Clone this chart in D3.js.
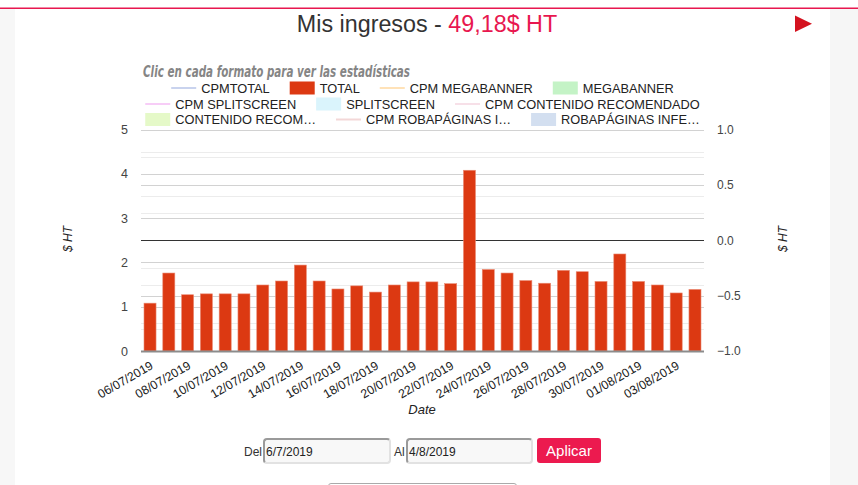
<!DOCTYPE html>
<html>
<head>
<meta charset="utf-8">
<script src="https://cdn.jsdelivr.net/npm/d3@7"></script>
<style>
    body { margin: 0; width: 858px; height: 485px; overflow: hidden; background: #fff; font-family: Arial, "Liberation Sans", sans-serif; }
    #page { position: relative; width: 858px; height: 485px; }
    #chart { position: absolute; left: 0; top: 0; }
    .fecha { position: absolute; top: 438px; height: 26px; box-sizing: border-box; border: 2px solid #e2e2e2; border-top-color: #9a9a9a; border-left-color: #9a9a9a;
        border-radius: 4px; background: #f8f8f8; font-size: 12px; color: #222; padding: 5px 0 0 1px; font-family: Arial, "Liberation Sans", sans-serif; }
    .lbl { position: absolute; top: 445px; font-size: 12px; color: #333; }
    #aplicar { position: absolute; left: 537px; top: 438px; width: 64px; height: 25px; background: #ec1a4f; color: #fff;
        border-radius: 3px; font-size: 15px; text-align: center; line-height: 25px; }
    #selector { position: absolute; left: 328px; top: 483px; width: 187px; height: 10px; border: 1px solid #aaa; border-radius: 3px; background: #fff; }
</style>
</head>
<body>
<div id="page">
    <svg id="chart" width="858" height="485"></svg>
    <span class="lbl" style="left:244px">Del</span>
    <div class="fecha" style="left:263px; width:128px">6/7/2019</div>
    <span class="lbl" style="left:394px">Al</span>
    <div class="fecha" style="left:406px; width:127px">4/8/2019</div>
    <div id="aplicar">Aplicar</div>
    <div id="selector"></div>
</div>
<script>
"use strict";

// days shown on the x axis
const dates = ["06/07/2019", "07/07/2019", "08/07/2019", "09/07/2019", "10/07/2019", "11/07/2019",
    "12/07/2019", "13/07/2019", "14/07/2019", "15/07/2019", "16/07/2019", "17/07/2019",
    "18/07/2019", "19/07/2019", "20/07/2019", "21/07/2019", "22/07/2019", "23/07/2019",
    "24/07/2019", "25/07/2019", "26/07/2019", "27/07/2019", "28/07/2019", "29/07/2019",
    "30/07/2019", "31/07/2019", "01/08/2019", "02/08/2019", "03/08/2019", "04/08/2019"];
// TOTAL revenue per day ($ HT)
const totals = [1.08, 1.76, 1.27, 1.29, 1.29, 1.29, 1.49, 1.58, 1.94, 1.58,
    1.40, 1.47, 1.33, 1.49, 1.56, 1.56, 1.52, 4.08, 1.84, 1.76,
    1.59, 1.53, 1.82, 1.79, 1.57, 2.19, 1.57, 1.49, 1.31, 1.39];

const leftTicks = [0, 1, 2, 3, 4, 5];
const leftMinor = [0.5, 1.5, 2.5, 3.5, 4.5];
const rightTicks = [-1.0, -0.5, 0.0, 0.5, 1.0];
const rightMinor = [-0.75, -0.25, 0.25, 0.75];

// legend rows: name, swatch type, colour (hidden series are faded)
const legendRows = [
    [["CPMTOTAL", "line", "#c9d3ee"], ["TOTAL", "box", "#dc3912"], ["CPM MEGABANNER", "line", "#ffe2b8"], ["MEGABANNER", "box", "#c4f3c6"]],
    [["CPM SPLITSCREEN", "line", "#f7cdf7"], ["SPLITSCREEN", "box", "#daf4fc"], ["CPM CONTENIDO RECOMENDADO", "line", "#f7e0e8"]],
    [["CONTENIDO RECOM\u2026", "box", "#e5f9c8"], ["CPM ROBAP\u00c1GINAS I\u2026", "line", "#f3d7d7"], ["ROBAP\u00c1GINAS INFE\u2026", "box", "#d3dff0"]]
];

const svg = d3.select("#chart");
const plot = { left: 141, right: 704, top: 129.5, bottom: 351 };

/* page frame */
svg.append("rect").attr("x", 0).attr("y", 9).attr("width", 15).attr("height", 476).attr("fill", "#f7f7f7");
svg.append("rect").attr("x", 830).attr("y", 9).attr("width", 28).attr("height", 476).attr("fill", "#f6f6f6");
svg.append("rect").attr("x", 0).attr("y", 7.5).attr("width", 858).attr("height", 1.5).attr("fill", "#e8174f");
svg.append("path").attr("d", "M795,15.5 L812,23.8 L795,32 Z").attr("fill", "#d4121f");

// title
let title = svg.append("text")
    .attr("x", 427).attr("y", 32)
    .attr("text-anchor", "middle")
    .style("font-size", "23.3px");
title.append("tspan").attr("fill", "#333").text("Mis ingresos - ");
title.append("tspan").attr("fill", "#e8174f").text("49,18$ HT");

svg.append("text")
    .attr("x", 143).attr("y", 77)
    .attr("textLength", 267).attr("lengthAdjust", "spacingAndGlyphs")
    .style("font-size", "15.5px").style("font-weight", "bold").style("font-style", "italic")
    .style("font-family", "'Liberation Sans Narrow', 'DejaVu Sans Condensed', Arial, sans-serif")
    .attr("fill", "#858585")
    .text("Clic en cada formato para ver las estad\u00edsticas");

/* scales */
var x = d3.scaleBand()
    .domain(dates)
    .range([plot.left, plot.right])
    .paddingInner(0.36)
    .paddingOuter(0.16);
var yLeft = d3.scaleLinear().domain([0, 5]).range([plot.bottom, plot.top]);
var yRight = d3.scaleLinear().domain([-1, 1]).range([plot.bottom, plot.top]);

// gridlines
let grid = svg.append("g");
function hline(y, color) {
    grid.append("line")
        .attr("x1", plot.left).attr("x2", plot.right)
        .attr("y1", Math.round(y) + 0.5).attr("y2", Math.round(y) + 0.5)
        .attr("stroke", color).attr("stroke-width", 1);
}
leftMinor.forEach(v => hline(yLeft(v), "#ececec"));
rightMinor.forEach(v => hline(yRight(v), "#ececec"));
leftTicks.forEach(v => hline(yLeft(v), "#d2d2d2"));
rightTicks.forEach(v => hline(yRight(v), "#d2d2d2"));
hline(yRight(0), "#333");

// bars
svg.append("g")
    .selectAll("rect")
    .data(totals)
    .enter()
    .append("rect")
    .attr("x", (d, i) => x(dates[i]))
    .attr("y", d => yLeft(d))
    .attr("width", x.bandwidth())
    .attr("height", d => yLeft(0) - yLeft(d))
    .attr("fill", "#dc3912")
    .attr("stroke", "#ea8a73")
    .attr("stroke-width", 0.6);

// baseline
svg.append("line")
    .attr("x1", plot.left).attr("x2", plot.right)
    .attr("y1", plot.bottom + 0.5).attr("y2", plot.bottom + 0.5)
    .attr("stroke", "#8c8c8c").attr("stroke-width", 2);

// left axis
svg.append("g")
    .attr("transform", "translate(" + (plot.left - 13) + ",0)")
    .call(d3.axisLeft(yLeft).tickValues(leftTicks).tickSize(0).tickPadding(0).tickFormat(d3.format("d")))
    .call(g => g.select(".domain").remove())
    .call(g => g.selectAll("text").attr("fill", "#444").style("font-size", "12.5px").style("font-family", "Arial, 'Liberation Sans', sans-serif"));

// right axis
svg.append("g")
    .attr("transform", "translate(" + (plot.right + 13) + ",0)")
    .call(d3.axisRight(yRight).tickValues(rightTicks).tickSize(0).tickPadding(0).tickFormat(d3.format(".1f")))
    .call(g => g.select(".domain").remove())
    .call(g => g.selectAll("text").attr("fill", "#444").style("font-size", "12px").style("font-family", "Arial, 'Liberation Sans', sans-serif"));

// x labels, every other day
svg.append("g")
    .selectAll("text")
    .data(dates.filter((d, i) => i % 2 === 0 && i < 29))
    .enter()
    .append("text")
    .attr("transform", d => "translate(" + (x(d) + x.bandwidth() / 2 + 4) + ",368) rotate(-30)")
    .attr("text-anchor", "end")
    .attr("fill", "#222")
    .style("font-size", "12.3px")
    .text(d => d);

// axis titles
svg.append("text")
    .attr("x", 422).attr("y", 414)
    .attr("text-anchor", "middle")
    .style("font-size", "13px").style("font-style", "italic")
    .attr("fill", "#222")
    .text("Date");

[68, 783].forEach(function (cx) {
    svg.append("text")
        .attr("transform", "translate(" + (cx + 4) + ",239) rotate(-90)")
        .attr("text-anchor", "middle")
        .style("font-size", "12px").style("font-style", "italic")
        .attr("fill", "#222")
        .text("$ HT");
});

/* legend */
let legend = svg.append("g").style("font-size", "12.8px");
let rowY = [88, 104, 119.5];
legendRows.forEach(function (row, r) {
    let g = legend.append("g");
    let cursor = 0;
    row.forEach(function (item, k) {
        if (k > 0) cursor += 20;
        if (item[1] === "box") {
            g.append("rect").attr("x", cursor).attr("y", rowY[r] - 6.5)
                .attr("width", 25).attr("height", 13).attr("fill", item[2]);
        } else {
            g.append("line").attr("x1", cursor).attr("x2", cursor + 25)
                .attr("y1", rowY[r]).attr("y2", rowY[r])
                .attr("stroke", item[2]).attr("stroke-width", 2);
        }
        cursor += 30;
        let t = g.append("text").attr("x", cursor).attr("y", rowY[r] + 4.5)
            .attr("fill", "#222").text(item[0]);
        cursor += t.node().getComputedTextLength();
    });
    g.attr("transform", "translate(" + ((plot.left + plot.right) / 2 - cursor / 2) + ",0)");
});
</script>
</body>
</html>
